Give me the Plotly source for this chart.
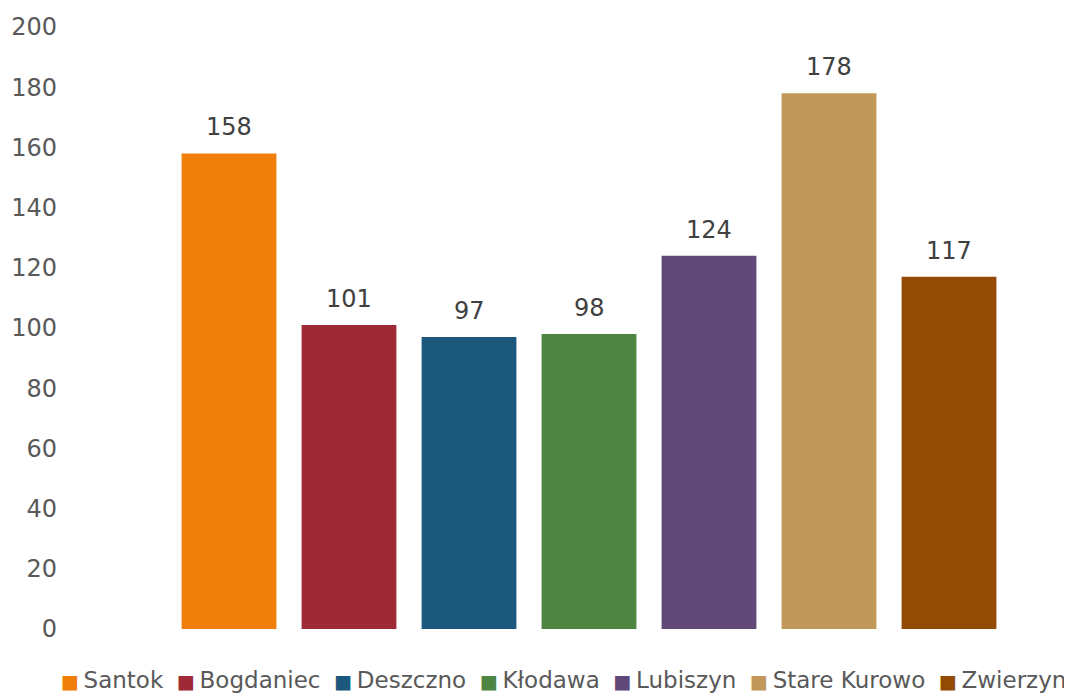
import plotly.graph_objects as go

categories = ["Santok", "Bogdaniec", "Deszczno", "Kłodawa", "Lubiszyn", "Stare Kurowo", "Zwierzyn"]
values = [158, 101, 97, 98, 124, 178, 117]
colors = ["#F07F09", "#9F2936", "#1B587C", "#4E8542", "#604878", "#C19859", "#934A04"]
y_ticks = [0, 20, 40, 60, 80, 100, 120, 140, 160, 180, 200]

FONT = "DejaVu Sans"
FS = 24
fig = go.Figure()
for i, (name, v, c) in enumerate(zip(categories, values, colors)):
    fig.add_trace(go.Bar(x=[i], y=[v], name=name, marker=dict(color=c, line=dict(width=0)),
                         width=0.79, hoverinfo="name+y", showlegend=False))
    fig.add_annotation(x=i, y=v, text=str(v), showarrow=False, yanchor="bottom", yshift=10,
                       font=dict(family=FONT, size=FS, color="#404040"))

# legend row (built from categories & colors)
parts = []
for name, c in zip(categories, colors):
    parts.append(f"<span style='color:{c};font-size:19px'>■</span>\u2009{name}")
legend_text = "\u2002\u200a".join(parts)
fig.add_annotation(xref="paper", yref="paper", x=0.5, y=0, yshift=-51, xshift=-2,
                   xanchor="center", yanchor="middle", text=legend_text, showarrow=False,
                   font=dict(family=FONT, size=23, color="#595959"))

fig.update_layout(
    width=1064, height=685,
    margin=dict(l=62, r=12, t=19, b=64, autoexpand=False),
    paper_bgcolor="white", plot_bgcolor="white",
    font=dict(family=FONT, size=FS, color="#595959"),
    barmode="overlay",
    showlegend=False,
    xaxis=dict(range=[-1.325, 6.925], showticklabels=False, showgrid=False, zeroline=False,
               showline=False, ticks=""),
    yaxis=dict(range=[0, 200], tickvals=y_ticks, showgrid=False, zeroline=False,
               showline=False, ticks="", ticklabelstandoff=12, automargin=False),
)
fig.write_html("out.html")
